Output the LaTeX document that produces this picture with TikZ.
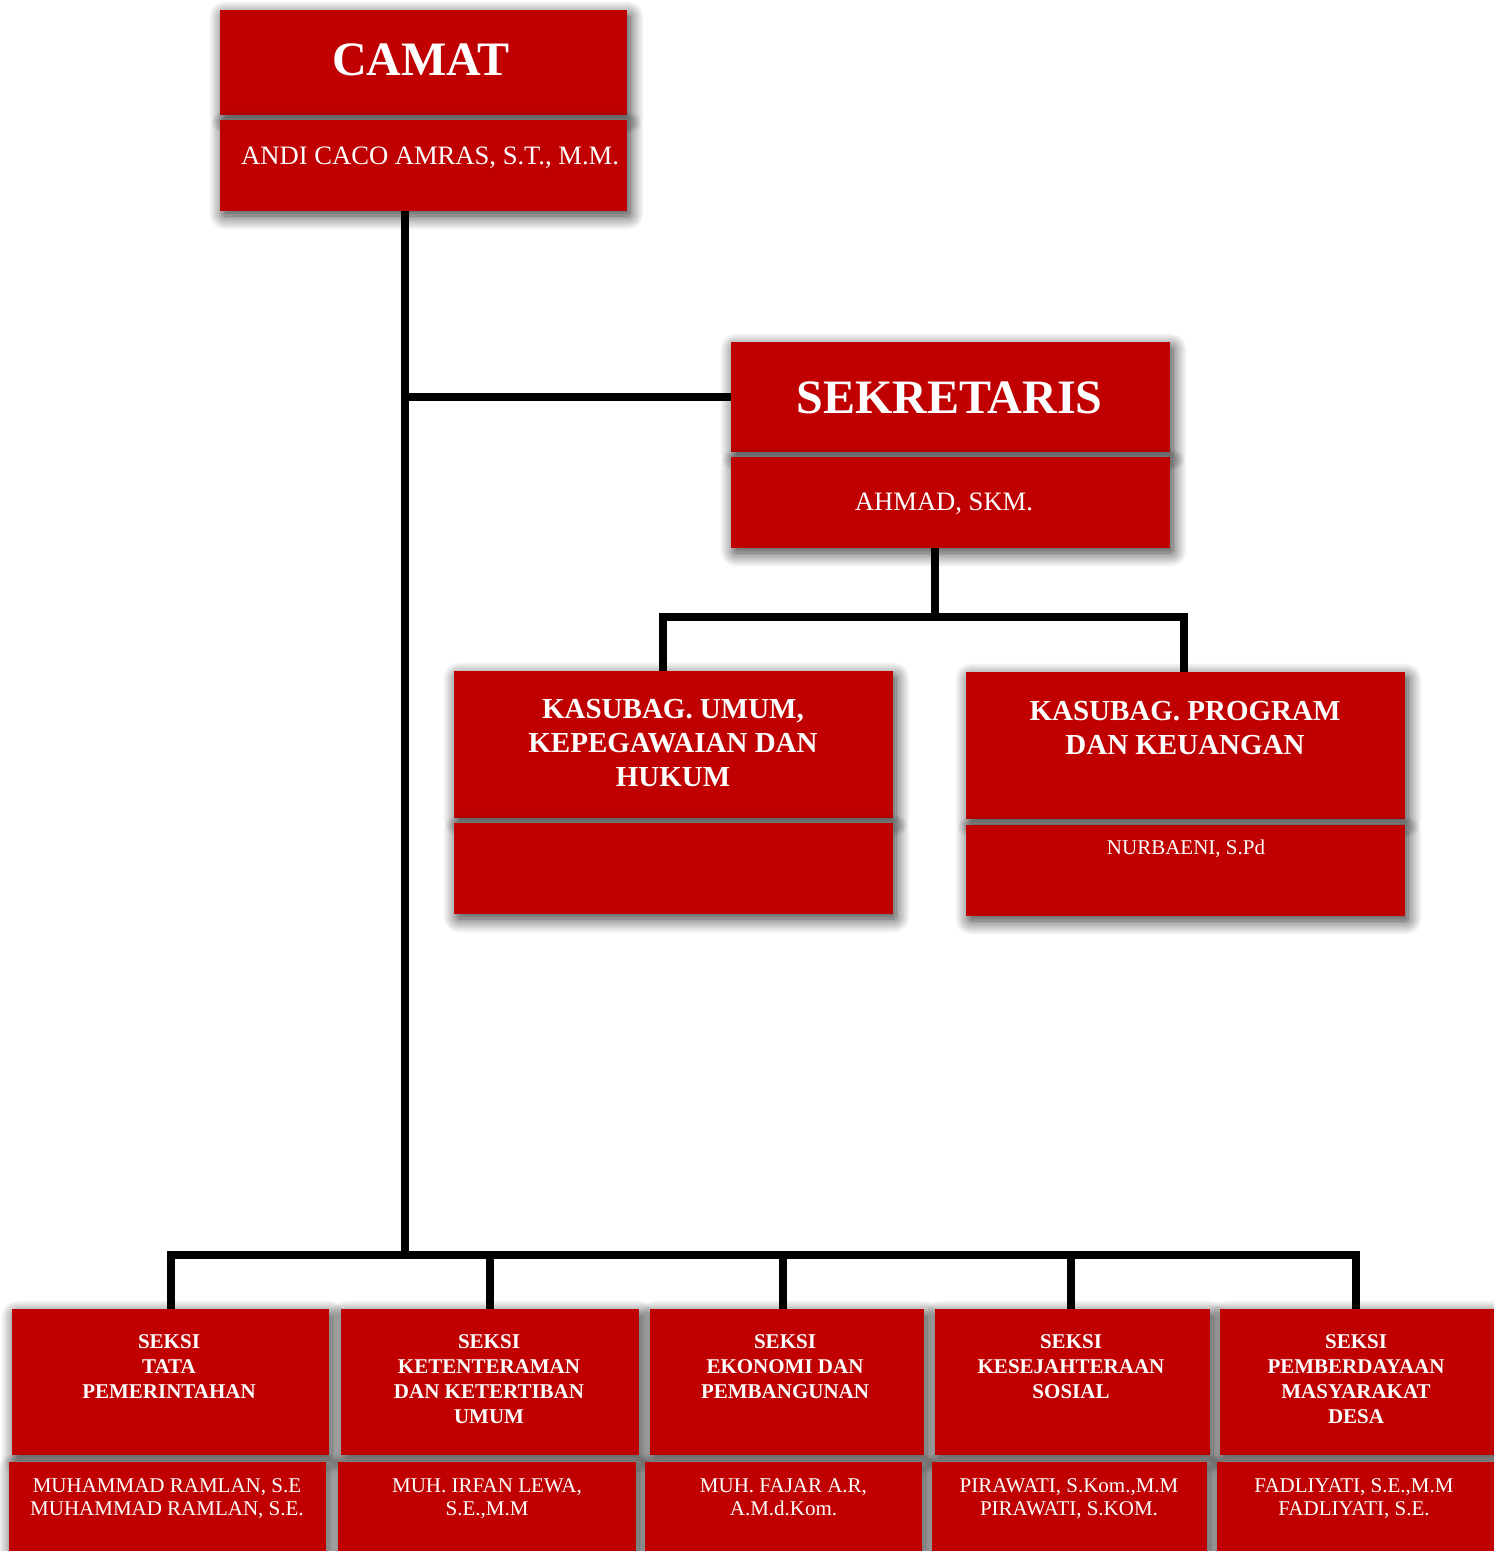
\documentclass[tikz,border=0pt]{standalone}
\usepackage{fontspec}
\setmainfont{Liberation Serif}
\usetikzlibrary{shadows.blur}
\definecolor{boxred}{RGB}{192,0,0}
\tikzset{
  redbox/.style={fill=boxred, draw=none, inner sep=0pt, outer sep=0pt,
    blur shadow={shadow xshift=3pt, shadow yshift=-5pt, shadow blur radius=14pt, shadow blur extra rounding=2pt, shadow blur steps=12, shadow opacity=80}},
  conn/.style={line width=7.5pt, black, line join=miter},
  lbl/.style={text=white, inner sep=0pt, align=center},
  bighead/.style={lbl, font=\bfseries\fontsize{48}{56}\selectfont},
  bigname/.style={lbl, font=\fontsize{26.6}{30}\selectfont},
  midhead/.style={lbl, font=\bfseries\fontsize{29}{34}\selectfont},
  smallhead/.style={lbl, font=\bfseries\fontsize{21}{25}\selectfont},
  smallname/.style={lbl, font=\fontsize{21}{23.5}\selectfont},
}
\begin{document}
\begin{tikzpicture}[x=1pt,y=-1pt]
\useasboundingbox (0,0) rectangle (1494,1551);

% ---- boxes ----
\node[redbox, minimum width=407pt, minimum height=105pt] (camatT) at (423.5,62.5) {};
\node[redbox, minimum width=407pt, minimum height=91pt] (camatB) at (423.5,165.5) {};
\node[redbox, minimum width=439pt, minimum height=110pt] (sekT) at (950.5,397) {};
\node[redbox, minimum width=439pt, minimum height=91pt] (sekB) at (950.5,502.5) {};
\node[redbox, minimum width=439pt, minimum height=147pt] (kuT) at (673.5,744.5) {};
\node[redbox, minimum width=439pt, minimum height=91pt] (kuB) at (673.5,868.5) {};
\node[redbox, minimum width=439pt, minimum height=147pt] (kpT) at (1185.5,745.5) {};
\node[redbox, minimum width=439pt, minimum height=91pt] (kpB) at (1185.5,870.5) {};

\node[redbox, minimum width=317pt, minimum height=146pt] (b1) at (170.5,1382) {};
\node[redbox, minimum width=298pt, minimum height=146pt] (b2) at (490,1382) {};
\node[redbox, minimum width=274pt, minimum height=146pt] (b3) at (787,1382) {};
\node[redbox, minimum width=275pt, minimum height=146pt] (b4) at (1072.5,1382) {};
\node[redbox, minimum width=274pt, minimum height=146pt] (b5) at (1357,1382) {};

\node[redbox, minimum width=317pt, minimum height=98pt] (n1) at (167.5,1511) {};
\node[redbox, minimum width=298pt, minimum height=98pt] (n2) at (487,1511) {};
\node[redbox, minimum width=277pt, minimum height=98pt] (n3) at (783.5,1511) {};
\node[redbox, minimum width=275pt, minimum height=98pt] (n4) at (1069.5,1511) {};
\node[redbox, minimum width=277pt, minimum height=98pt] (n5) at (1355.5,1511) {};

% ---- texts ----
\node[bighead, anchor=base] (tcamat) at (421,75) {CAMAT};
\node[bigname, anchor=base west] (ncamat) at (241,164) {ANDI CACO AMRAS, S.T., M.M.};
\node[bighead, anchor=base] (tsek) at (949.5,413) {SEKRETARIS};
\node[bigname, anchor=base] (nsek) at (944,510) {AHMAD, SKM.};
\node[midhead, anchor=north] (tku) at (673,699) {KASUBAG. UMUM,\\KEPEGAWAIAN DAN\\HUKUM};
\node[midhead, anchor=north] (tkp) at (1185,701) {KASUBAG. PROGRAM\\DAN KEUANGAN};
\node[smallname, anchor=base] (nkp) at (1186,854) {NURBAENI, S.Pd};

\node[smallhead, anchor=north] (tb1) at (169,1334) {SEKSI\\TATA\\PEMERINTAHAN};
\node[smallhead, anchor=north] (tb2) at (489,1334) {SEKSI\\KETENTERAMAN\\DAN KETERTIBAN\\UMUM};
\node[smallhead, anchor=north] (tb3) at (785,1334) {SEKSI\\EKONOMI DAN\\PEMBANGUNAN};
\node[smallhead, anchor=north] (tb4) at (1071,1334) {SEKSI\\KESEJAHTERAAN\\SOSIAL};
\node[smallhead, anchor=north] (tb5) at (1356,1334) {SEKSI\\PEMBERDAYAAN\\MASYARAKAT\\DESA};

\node[smallname, anchor=north] (tn1) at (167,1478) {MUHAMMAD RAMLAN, S.E\\MUHAMMAD RAMLAN, S.E.};
\node[smallname, anchor=north] (tn2) at (487,1478) {MUH. IRFAN LEWA,\\S.E.,M.M};
\node[smallname, anchor=north] (tn3) at (783.5,1478) {MUH. FAJAR A.R,\\A.M.d.Kom.};
\node[smallname, anchor=north] (tn4) at (1069,1478) {PIRAWATI, S.Kom.,M.M\\PIRAWATI, S.KOM.};
\node[smallname, anchor=north] (tn5) at (1354,1478) {FADLIYATI, S.E.,M.M\\FADLIYATI, S.E.};

% ---- connectors ----
\coordinate (spine) at (405,1255);
\coordinate (kbus) at (935,617);
\coordinate (kux) at (663,0);
\coordinate (kpx) at (1184,0);
\coordinate (x1) at (171,0);
\coordinate (x2) at (490,0);
\coordinate (x3) at (783,0);
\coordinate (x4) at (1071,0);
\coordinate (x5) at (1356,0);

\draw[conn] (camatB.south -| spine) -- (spine);
\draw[conn] (spine |- sekT.west) -- (sekT.west);
\draw[conn] (sekB.south -| kbus) -- (kbus);
\draw[conn] (kuT.north -| kux) |- (kbus) -| (kpT.north -| kpx);
\draw[conn] (b1.north -| x1) |- (spine) -| (b5.north -| x5);
\draw[conn] (b2.north -| x2) -- (x2 |- spine);
\draw[conn] (b3.north -| x3) -- (x3 |- spine);
\draw[conn] (b4.north -| x4) -- (x4 |- spine);
\end{tikzpicture}
\end{document}
